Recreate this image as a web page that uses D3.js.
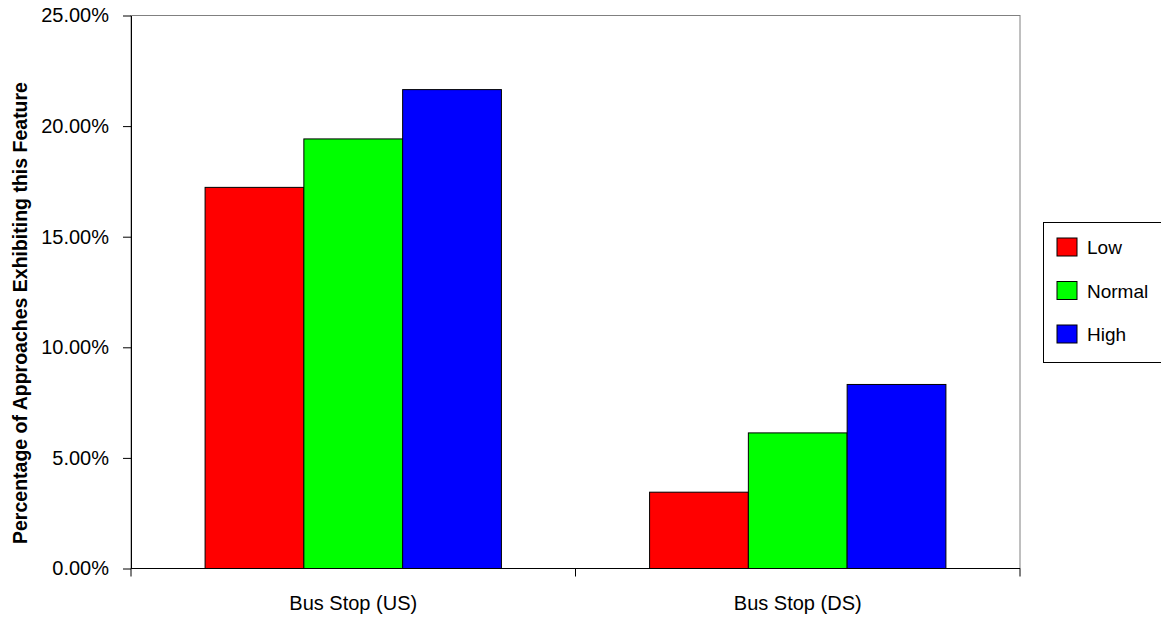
<!DOCTYPE html>
<html><head><meta charset="utf-8">
<script src="https://cdn.jsdelivr.net/npm/d3@7"></script>
<style>body{margin:0;background:#fff}svg{display:block}text{font-family:"Liberation Sans",Arial,sans-serif}</style>
</head><body>
<svg id="c" width="1161" height="619"></svg>
<script>
const categories = ["Bus Stop (US)", "Bus Stop (DS)"];
const seriesNames = ["Low", "Normal", "High"];
const lowValues = [0.1723, 0.0345];
const normalValues = [0.1942, 0.0613];
const highValues = [0.2165, 0.0832];
const yTicks = [0, 0.05, 0.10, 0.15, 0.20, 0.25];
const colors = ["#ff0000", "#00ff00", "#0000ff"];
const yTitle = "Percentage of Approaches Exhibiting this Feature";

const series = [lowValues, normalValues, highValues];
const svg = d3.select("#c");
const L = 131, R = 1020, T = 15.5, B = 568.5;
const FS = 20;

const x = d3.scaleBand().domain(categories).range([L, R]).padding(0);
const inner = d3.scaleBand().domain(seriesNames).range([0, x.bandwidth()]).paddingOuter(0.75).paddingInner(0);
const y = d3.scaleLinear().domain([0, 0.25]).range([B, T]);

// plot border (top/right gray)
svg.append("rect").attr("x", L).attr("y", T).attr("width", R - L).attr("height", B - T)
  .attr("fill", "none").attr("stroke", "#808080").attr("stroke-width", 1);

// bars
categories.forEach((c, ci) => {
  seriesNames.forEach((s, si) => {
    const v = series[si][ci];
    svg.append("rect")
      .attr("x", x(c) + inner(s))
      .attr("y", y(v))
      .attr("width", inner.bandwidth())
      .attr("height", B - y(v))
      .attr("fill", colors[si])
      .attr("stroke", "#000").attr("stroke-width", 1);
  });
});

// y axis
const yAxis = d3.axisLeft(y).tickValues(yTicks).tickFormat(d3.format(".2%")).tickSize(8).tickSizeOuter(0);
const gy = svg.append("g").attr("transform", `translate(${L},0)`).call(yAxis);
gy.select(".domain").attr("stroke", "#000");
gy.selectAll(".tick line").attr("stroke", "#000");
gy.selectAll(".tick text").attr("font-size", FS).attr("fill", "#000").attr("x", -22)
  .attr("font-family", '"Liberation Sans",Arial,sans-serif');

// x axis (ticks at band boundaries)
const gx = svg.append("g").attr("transform", `translate(0,${B})`);
gx.append("line").attr("x1", L).attr("x2", R).attr("stroke", "#000");
const bounds = [L].concat(categories.map(c => x(c) + x.bandwidth()));
gx.selectAll("line.tk").data(bounds).join("line").attr("class", "tk")
  .attr("x1", d => d).attr("x2", d => d).attr("y1", 0).attr("y2", 8).attr("stroke", "#000");
gx.selectAll("text").data(categories).join("text")
  .attr("x", d => x(d) + x.bandwidth() / 2).attr("y", 41)
  .attr("text-anchor", "middle").attr("font-size", FS).attr("fill", "#000").text(d => d);

// y title
svg.append("text").attr("transform", `translate(27,313) rotate(-90)`)
  .attr("text-anchor", "middle").attr("font-size", 19.5).attr("font-weight", "bold").text(yTitle);

// legend
const lg = svg.append("g");
lg.append("rect").attr("x", 1043.5).attr("y", 222.5).attr("width", 130).attr("height", 140)
  .attr("fill", "#fff").attr("stroke", "#000").attr("stroke-width", 1);
seriesNames.forEach((s, i) => {
  const cy = 247 + i * 43.5;
  lg.append("rect").attr("x", 1057).attr("y", cy - 9).attr("width", 20).attr("height", 18)
    .attr("fill", colors[i]).attr("stroke", "#000");
  lg.append("text").attr("x", 1087).attr("y", cy + 7).attr("font-size", 19).text(s);
});
</script>
</body></html>
